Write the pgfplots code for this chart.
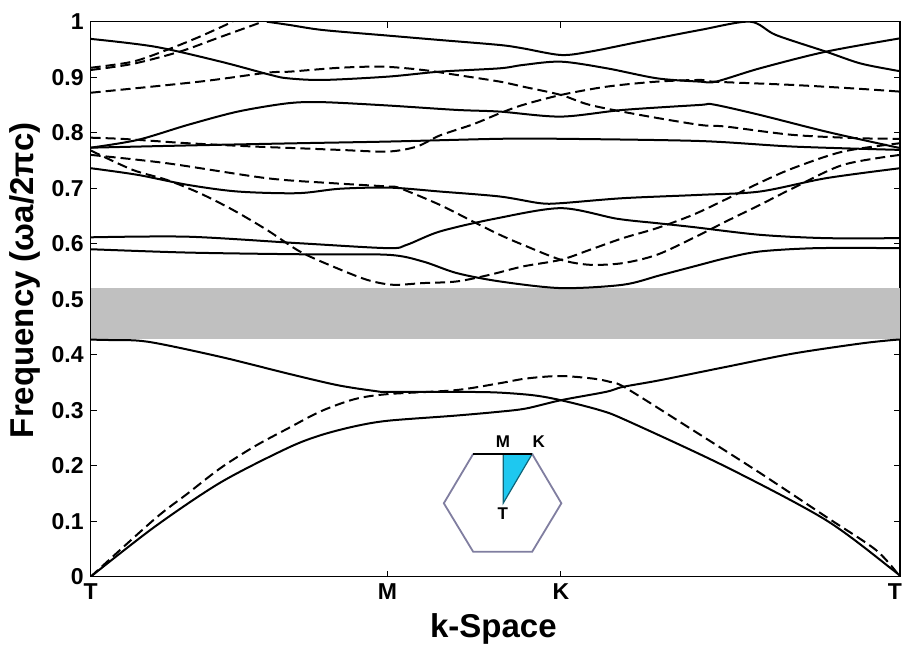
\documentclass[border=0pt]{standalone}
\usepackage{pgfplots}
\pgfplotsset{compat=1.18}
\usepackage{fontspec}
\setmainfont{Liberation Sans}
\definecolor{bandgray}{RGB}{192,192,192}
\definecolor{hexgray}{RGB}{128,126,160}
\definecolor{bzcyan}{RGB}{30,200,240}
\pgfplotsset{
  sol/.style={black, smooth, tension=0.5, line width=1pt},
  das/.style={black, smooth, tension=0.5, line width=1pt, dash pattern=on 5pt off 2.5pt},
}
\begin{document}
\begin{tikzpicture}
\begin{axis}[name=ax, scale only axis, width=404.65pt, height=277.5pt,
  xmin=0, xmax=809, ymin=0, ymax=1,
  xtick={0,296.7,470,809}, xticklabels={T,M,K,{\makebox[2pt][r]{T}}},
  ytick={0,0.1,0.2,0.3,0.4,0.5,0.6,0.7,0.8,0.9,1},
  yticklabels={0,0.1,0.2,0.3,0.4,0.5,0.6,0.7,0.8,0.9,1},
  tick align=inside, major tick length=3pt,
  tick style={black, line width=0.5pt},
  axis line style={line width=0.7pt},
  ticklabel style={font=\fontsize{11.5}{13}\selectfont\bfseries},
  xlabel={k-Space}, ylabel={Frequency (ωa/2πc)},
  label style={font=\fontsize{16.5}{18}\selectfont\bfseries},
  xlabel style={at={(axis description cs:0.4975,-0.1087)}, anchor=base},
  ylabel style={at={(axis description cs:-0.081,0.534)}, anchor=center},
]
% band gap
\addplot[fill=bandgray, draw=none] coordinates {(0,0.428) (809,0.428) (809,0.520) (0,0.520)} --cycle;

% lower bands
\addplot[sol] coordinates {(0,0) (64,0.090) (130,0.170) (197,0.232) (230,0.255) (264,0.271) (297,0.281) (363,0.290) (407,0.297) (435,0.303) (470,0.318) (515,0.333) (532,0.342) (569,0.354) (635,0.378) (702,0.402) (769,0.420) (802,0.4265) (809,0.427)};
\addplot[sol] coordinates {(0,0.427) (17,0.4265) (57,0.4234) (130,0.396) (197,0.366) (247,0.345) (284,0.3346) (297,0.333) (364,0.333) (405,0.332) (442,0.327) (470,0.318) (509,0.300) (535,0.282) (635,0.198) (735,0.102) (802,0.012) (809,0)};
\addplot[das] coordinates {(0,0) (64,0.104) (97,0.150) (130,0.196) (164,0.235) (197,0.267) (230,0.298) (264,0.320) (297,0.329) (364,0.336) (407,0.348) (435,0.357) (469,0.3616) (502,0.357) (519,0.351) (535,0.340) (602,0.264) (669,0.187) (735,0.108) (785,0.048) (809,0)};

% upper solid bands
\addplot[sol] coordinates {(176,1.0) (199,0.994) (232,0.985) (296.7,0.975) (349,0.967) (409,0.958) (432,0.952) (470,0.940) (499,0.946) (549,0.964) (609,0.985) (659,1.0) (685,0.976) (735,0.946) (769,0.925) (802,0.913) (809,0.911)};
\addplot[sol] coordinates {(0,0.969) (64,0.955) (130,0.928) (180,0.904) (197,0.898) (232,0.895) (297,0.901) (349,0.910) (409,0.916) (432,0.922) (470,0.928) (516,0.916) (566,0.898) (609,0.892) (625,0.892) (669,0.916) (735,0.946) (809,0.970)};
\addplot[sol] coordinates {(0,0.773) (47,0.787) (97,0.814) (147,0.838) (197,0.853) (232,0.855) (297,0.849) (366,0.841) (409,0.838) (470,0.829) (532,0.841) (609,0.850) (622,0.851) (669,0.832) (735,0.802) (802,0.775) (809,0.773)};
\addplot[sol] coordinates {(0,0.773) (97,0.777) (207,0.781) (297,0.784) (409,0.789) (470,0.789) (609,0.785) (702,0.775) (809,0.769)};
\addplot[sol] coordinates {(0,0.736) (47,0.724) (97,0.706) (147,0.694) (207,0.691) (249,0.699) (299,0.701) (349,0.694) (409,0.685) (449,0.673) (470,0.673) (532,0.682) (609,0.688) (669,0.694) (735,0.718) (809,0.736)};
\addplot[sol] coordinates {(0,0.6115) (97,0.6126) (207,0.601) (297,0.592) (316,0.598) (349,0.622) (404,0.645) (470,0.664) (526,0.645) (566,0.637) (602,0.630) (669,0.616) (735,0.610) (809,0.610)};
\addplot[sol] coordinates {(0,0.590) (97,0.584) (207,0.581) (297,0.580) (332,0.568) (366,0.547) (409,0.532) (470,0.520) (532,0.526) (569,0.543) (605,0.560) (635,0.574) (669,0.586) (726,0.592) (809,0.592)};

% upper dashed bands
\addplot[das] coordinates {(0,0.917) (42,0.928) (76,0.949) (109,0.973) (142,1.0)};
\addplot[das] coordinates {(0,0.913) (42,0.924) (89,0.946) (126,0.970) (172,1.0)};
\addplot[das] coordinates {(0,0.872) (109,0.892) (176,0.908) (199,0.910) (249,0.917) (292,0.919) (332,0.913) (366,0.904) (409,0.892) (432,0.883) (470,0.868) (499,0.850) (549,0.832) (609,0.814) (635,0.811) (702,0.796) (769,0.790) (809,0.789)};
\addplot[das] coordinates {(0,0.791) (30,0.789) (64,0.785) (97,0.781) (164,0.775) (207,0.772) (249,0.769) (297,0.766) (326,0.775) (349,0.795) (382,0.815) (409,0.835) (432,0.850) (470,0.868) (516,0.883) (566,0.892) (609,0.895) (622,0.892) (702,0.886) (769,0.879) (809,0.874)};
\addplot[das] coordinates {(0,0.760) (76,0.745) (176,0.718) (242,0.709) (297,0.703) (309,0.700) (349,0.670) (382,0.640) (409,0.616) (432,0.598) (470,0.571) (499,0.562) (532,0.565) (566,0.580) (602,0.610) (635,0.640) (669,0.670) (702,0.700) (752,0.742) (809,0.760)};
\addplot[das] coordinates {(0,0.768) (42,0.733) (76,0.715) (109,0.691) (142,0.661) (176,0.625) (209,0.586) (242,0.559) (276,0.535) (302,0.526) (332,0.529) (366,0.532) (399,0.544) (432,0.559) (470,0.571) (499,0.589) (532,0.610) (566,0.628) (602,0.652) (635,0.680) (669,0.710) (702,0.736) (752,0.766) (809,0.781)};

% Brillouin zone inset
\addplot[fill=bzcyan, draw=black!50!bzcyan, line width=0.6pt] coordinates {(412.3,0.2211) (441.3,0.2211) (412.3,0.1323)} --cycle;
\addplot[draw=hexgray, line width=0.9pt] coordinates {(441.3,0.2211) (470.5,0.1323) (441.3,0.0450) (382.3,0.0450) (353,0.1323) (382.3,0.2211)};
\addplot[black, line width=1.2pt] coordinates {(382.3,0.2211) (441.3,0.2211)};
\node[font=\fontsize{8.5}{9}\selectfont\bfseries] at (axis cs:412,0.2427) {M};
\node[font=\fontsize{8.5}{9}\selectfont\bfseries] at (axis cs:448,0.2427) {K};
\node[font=\fontsize{8.5}{9}\selectfont\bfseries] at (axis cs:412,0.113) {T};
\end{axis}
\pgfresetboundingbox
\path[use as bounding box] ([xshift=-45.35pt,yshift=-34.65pt]ax.south west) rectangle ([xshift=1.5pt,yshift=10.85pt]ax.north east);
\end{tikzpicture}
\end{document}
